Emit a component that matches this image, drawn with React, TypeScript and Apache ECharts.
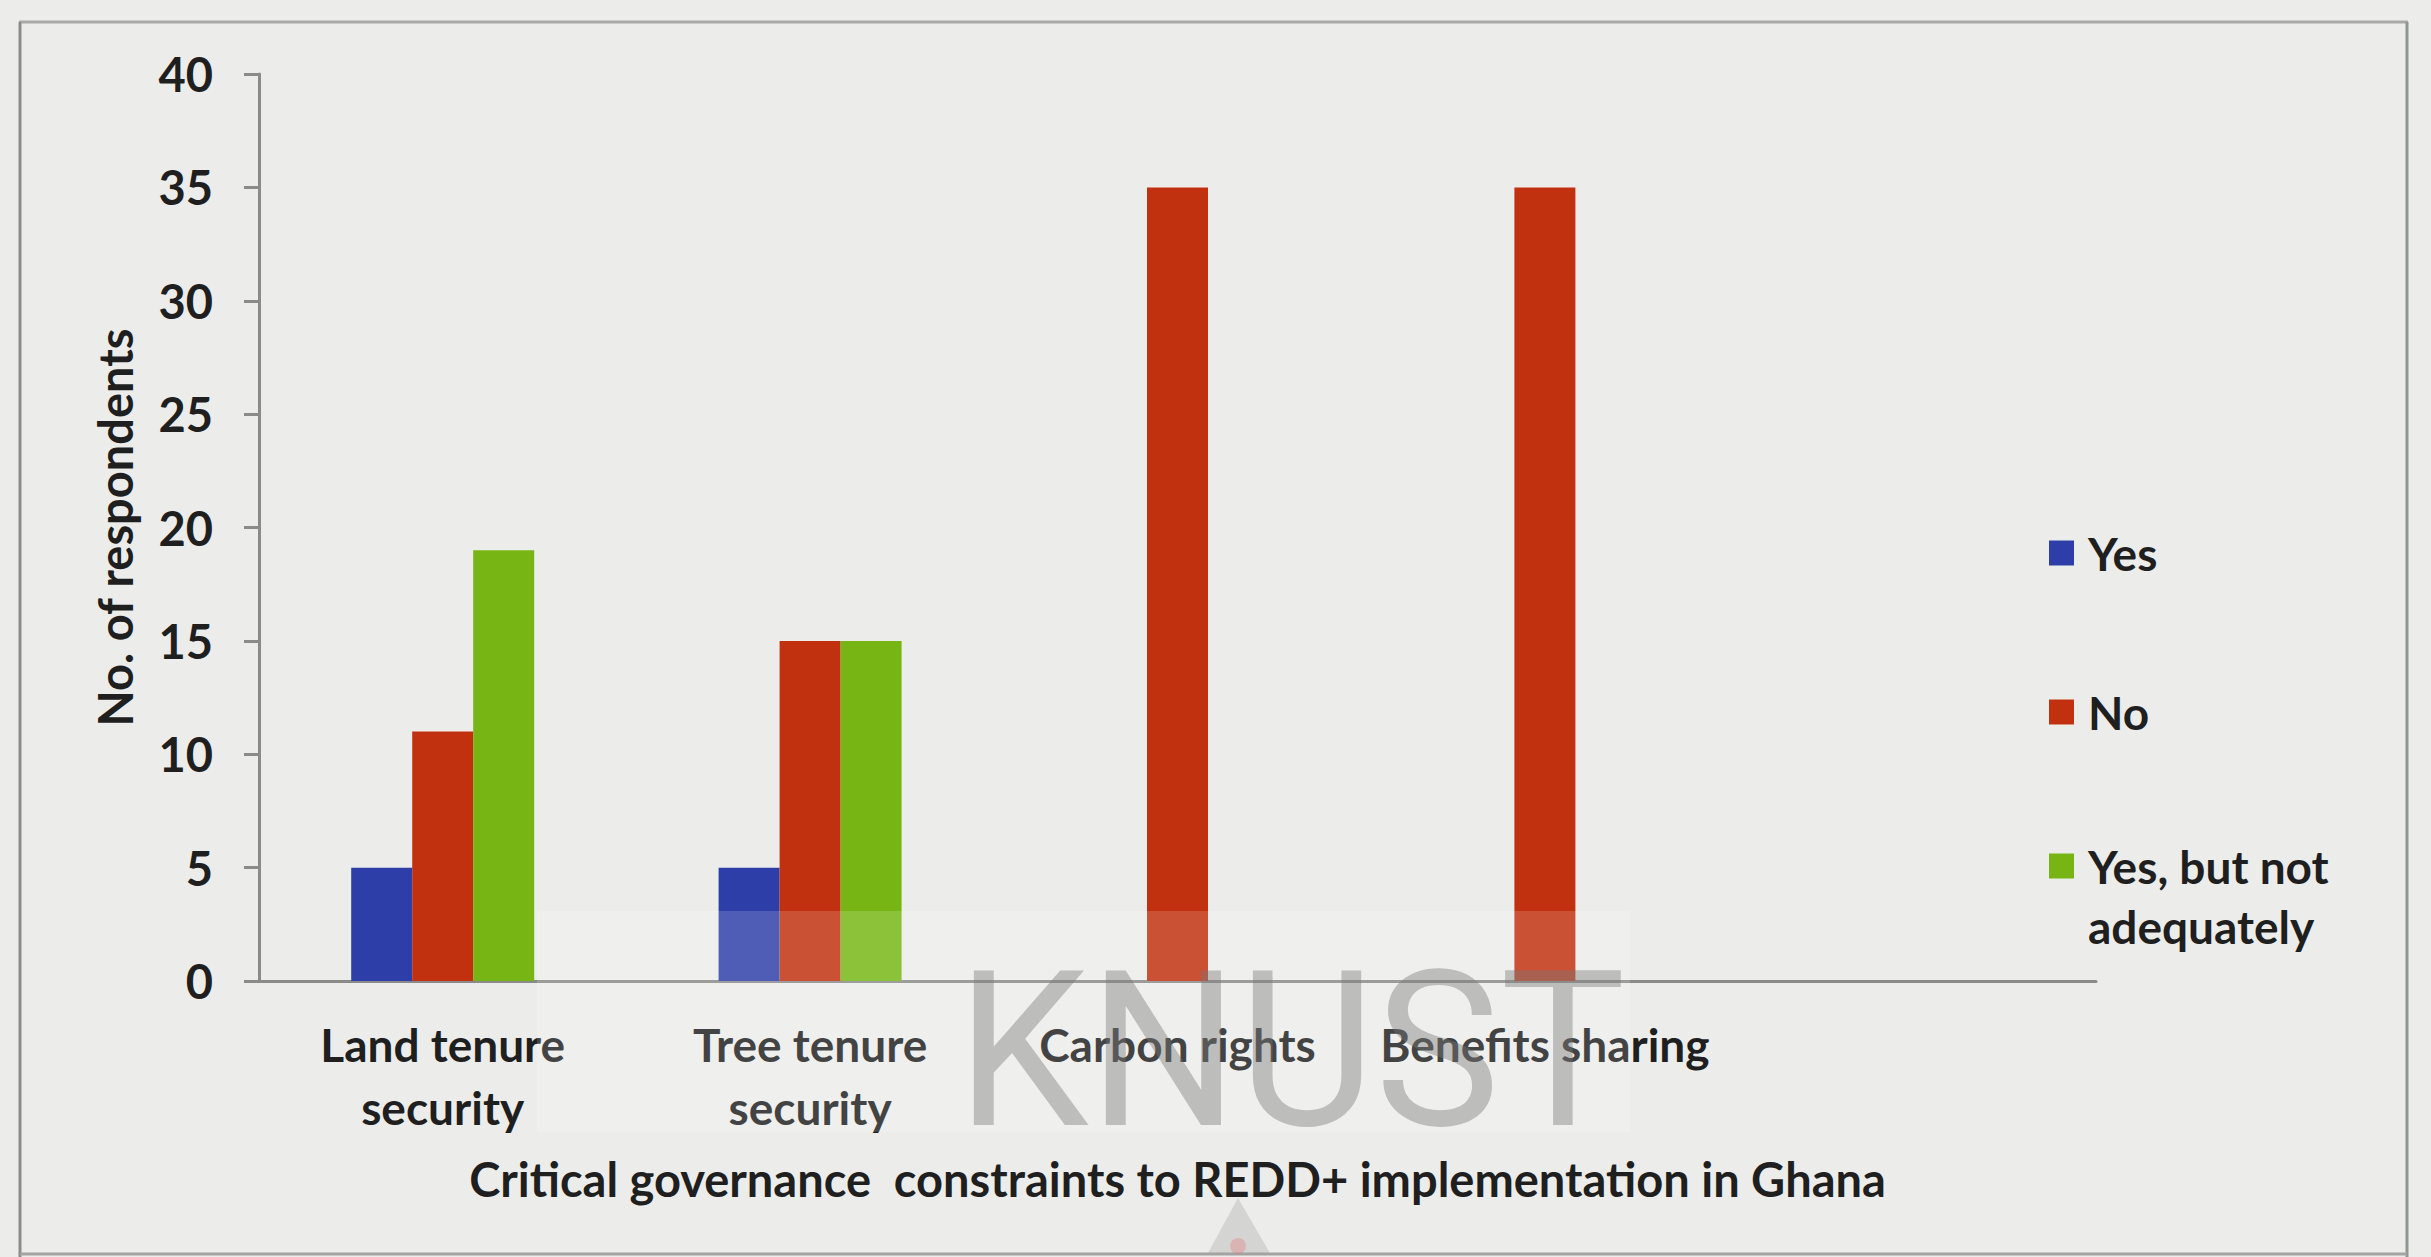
import React, { useEffect, useRef } from "react";
import * as echarts from "echarts";

// Responses per governance constraint (number of respondents)
const categories = [
  "Land tenure\nsecurity",
  "Tree tenure\nsecurity",
  "Carbon rights",
  "Benefits sharing",
  "",
];
const yesValues = [5, 5, 0, 0, null];
const noValues = [11, 15, 35, 35, null];
const yesNotAdequateValues = [19, 15, 0, 0, null];

const seriesNames = ["Yes", "No", "Yes, but not adequately"];
const seriesColors = ["#2e3ea8", "#c1300f", "#77b515"];

const yMin = 0;
const yMax = 40;
const yInterval = 5;

const xTitle = "Critical governance  constraints to REDD+ implementation in Ghana";
const yTitle = "No. of respondents";
const watermark = "KNUST";

const FONT = "Lato";
const INK = "#1f1f1f";

// square swatch at the top of a taller box, so a two-line label lines up with it
const TALL_SWATCH = "path://M0,0L25,0L25,25L0,25Z M0,85L0.01,85L0,85Z";

export default function App() {
  const ref = useRef<HTMLDivElement>(null);

  useEffect(() => {
    if (!ref.current) return;
    const chart = echarts.init(ref.current, undefined, { renderer: "svg" });

    const legendText = {
      fontFamily: FONT,
      fontWeight: "bold" as const,
      fontSize: 46,
      color: INK,
      lineHeight: 25,
      padding: [0, 0, 0, 9],
    };

    const option: echarts.EChartsOption = {
      animation: false,
      backgroundColor: "#ecedeb",
      grid: { left: 259, right: 335, top: 74, bottom: 276, containLabel: false },
      legend: [
        {
          data: [seriesNames[0]],
          left: 2049,
          top: 530,
          padding: 0,
          icon: "rect",
          itemWidth: 25,
          itemHeight: 25,
          selectedMode: false,
          textStyle: legendText,
        },
        {
          data: [seriesNames[1]],
          left: 2049,
          top: 689,
          padding: 0,
          icon: "rect",
          itemWidth: 25,
          itemHeight: 25,
          selectedMode: false,
          textStyle: legendText,
        },
        {
          data: [seriesNames[2]],
          left: 2049,
          top: 836,
          padding: 0,
          icon: TALL_SWATCH,
          itemWidth: 25,
          itemHeight: 85,
          selectedMode: false,
          formatter: () => "Yes, but not\nadequately",
          textStyle: { ...legendText, lineHeight: 60 },
        },
      ],
      xAxis: {
        type: "category",
        data: categories,
        boundaryGap: true,
        name: xTitle,
        nameLocation: "middle",
        nameGap: 174,
        nameTextStyle: { fontFamily: FONT, fontWeight: "bold", fontSize: 47, color: INK },
        axisLine: { show: true, lineStyle: { color: "#8a8a8a", width: 3 } },
        axisTick: { show: false },
        axisLabel: {
          interval: 0,
          margin: 32,
          fontFamily: FONT,
          fontWeight: "bold",
          fontSize: 46,
          lineHeight: 63,
          color: INK,
        },
        splitLine: { show: false },
      },
      yAxis: {
        type: "value",
        min: yMin,
        max: yMax,
        interval: yInterval,
        name: yTitle,
        nameLocation: "middle",
        nameGap: 121,
        nameTextStyle: { fontFamily: FONT, fontWeight: "bold", fontSize: 47, color: INK },
        axisLine: { show: true, lineStyle: { color: "#8a8a8a", width: 3 } },
        axisTick: { show: true, length: 15, lineStyle: { color: "#8a8a8a", width: 3 } },
        axisLabel: {
          margin: 46,
          fontFamily: FONT,
          fontWeight: "bold",
          fontSize: 47,
          color: INK,
        },
        splitLine: { show: false },
      },
      series: [
        {
          name: seriesNames[0],
          type: "bar",
          data: yesValues,
          barWidth: 61,
          barGap: "0%",
          itemStyle: { color: seriesColors[0] },
        },
        {
          name: seriesNames[1],
          type: "bar",
          data: noValues,
          barWidth: 61,
          barGap: "0%",
          itemStyle: { color: seriesColors[1] },
        },
        {
          name: seriesNames[2],
          type: "bar",
          data: yesNotAdequateValues,
          barWidth: 61,
          barGap: "0%",
          itemStyle: { color: seriesColors[2] },
        },
      ],
      graphic: [
        // chart frame
        { type: "line", z: 50, shape: { x1: 19, y1: 22, x2: 2408, y2: 22 }, style: { stroke: "#a9a9a9", lineWidth: 3 } },
        { type: "line", z: 50, shape: { x1: 20, y1: 22, x2: 20, y2: 1257 }, style: { stroke: "#8c8c8c", lineWidth: 3 } },
        { type: "line", z: 50, shape: { x1: 2407, y1: 22, x2: 2407, y2: 1257 }, style: { stroke: "#8f978f", lineWidth: 3 } },
        { type: "line", z: 50, shape: { x1: 20, y1: 1254, x2: 2407, y2: 1254 }, style: { stroke: "#a3a3a3", lineWidth: 3 } },
        // watermark backing panel
        {
          type: "rect",
          z: 100,
          shape: { x: 537, y: 911, width: 1093, height: 221 },
          style: { fill: "rgba(255,255,255,0.16)" },
        },
        // watermark lettering
        {
          type: "text",
          z: 101,
          x: 1291,
          y: 1051,
          scaleX: 0.97,
          style: {
            text: watermark,
            fontFamily: "Roboto",
            fontWeight: 400,
            fontSize: 217,
            fill: "rgba(120,120,120,0.42)",
            align: "center",
            verticalAlign: "middle",
          },
        },
        // emblem tip along the lower edge
        {
          type: "polygon",
          z: 60,
          shape: { points: [[1238, 1198], [1270, 1253], [1208, 1253]] },
          style: { fill: "rgba(150,150,150,0.28)" },
        },
        {
          type: "circle",
          z: 61,
          shape: { cx: 1238, cy: 1246, r: 8 },
          style: { fill: "rgba(230,120,120,0.35)" },
        },
      ],
    };

    chart.setOption(option);
    return () => chart.dispose();
  }, []);

  return (
    <div
      ref={ref}
      style={{ position: "fixed", left: 0, top: 0, width: 2431, height: 1257 }}
    />
  );
}
